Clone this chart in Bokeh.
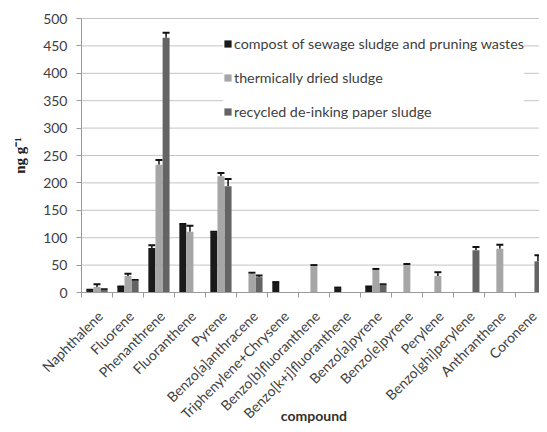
import math
from bokeh.plotting import figure
from bokeh.models import (Range1d, FixedTicker, Legend, LegendItem, Whisker,
                          ColumnDataSource, TeeHead)
from bokeh.core.properties import value
from bokeh.embed import file_html
from bokeh.resources import INLINE

compounds = ["Naphthalene", "Fluorene", "Phenanthrene", "Fluoranthene", "Pyrene",
             "Benzo[a]anthracene", "Triphenylene+Chrysene", "Benzo[b]fluoranthene",
             "Benzo[k+j]fluoranthene", "Benzo[a]pyrene", "Benzo[e]pyrene", "Perylene",
             "Benzo[ghi]perylene", "Anthranthene", "Coronene"]
series_names = ["compost of sewage sludge and pruning wastes",
                "thermically dried sludge",
                "recycled de-inking paper sludge"]
compost = [4, 10, 81, 124, 110, None, 18, None, 8, 10, None, None, None, None, None]
compost_err = [1, 1, 5, 1, 1, None, 1, None, 1, 1, None, None, None, None, None]
thermal = [10, 30, 233, 111, 212, 34, None, 48, None, 41, 50, 30, None, 80, None]
thermal_err = [5, 4, 9, 11, 6, 2, None, 2, None, 2, 2, 7, None, 7, None]
recycled = [5, 22, 465, None, 194, 28, None, None, None, 14, None, None, 77, None, 57]
recycled_err = [1, 1, 9, None, 13, 3, None, None, None, 1, None, None, 6, None, 11]
y_ticks = list(range(0, 501, 50))

colors = ["#1a1a1a", "#a6a6a6", "#646464"]
offsets = [-0.23, 0.0, 0.23]
bar_w = 0.225

# canvas layout (pixels)
W, H = 539, 424
LEFT, TOP, BOTTOM = 81, 18, 292
x_end = 14.78
y_max = 500
sx = (W - LEFT) / x_end            # px per category
sy = (BOTTOM - TOP) / y_max         # px per unit

p = figure(width=W, height=H, output_backend="svg", toolbar_location=None,
           x_range=Range1d(-LEFT / sx, x_end),
           y_range=Range1d(-(H - BOTTOM) / sy, y_max + TOP / sy),
           min_border=0)
p.outline_line_color = None
p.grid.visible = False

# horizontal gridlines over the plot area only
p.segment(x0=[0] * len(y_ticks), x1=[x_end] * len(y_ticks), y0=y_ticks, y1=y_ticks,
          line_color="#c4c4c4", line_width=1, level="underlay")

items = []
for name, vals, errs, col, off in zip(series_names, [compost, thermal, recycled],
                                      [compost_err, thermal_err, recycled_err],
                                      colors, offsets):
    xs, tops, ups = [], [], []
    for i, (v, e) in enumerate(zip(vals, errs)):
        if v is None:
            continue
        xs.append(i + 0.5 + off)
        tops.append(v)
        ups.append(v + (e or 0))
    src = ColumnDataSource(dict(x=xs, top=tops, up=ups))
    r = p.vbar(x="x", top="top", width=bar_w, bottom=0, source=src,
               fill_color=col, line_color=None)
    w = Whisker(base="x", lower="top", upper="up", source=src, dimension="height",
                line_color="#111111", line_width=1.5,
                upper_head=TeeHead(size=7, line_color="#111111", line_width=2),
                lower_head=None)
    p.add_layout(w)
    items.append(LegendItem(label=name, renderers=[r]))

legend = Legend(items=items, location=(223, 304), background_fill_color="white",
                background_fill_alpha=1, border_line_color=None,
                label_text_font="Lato", label_text_font_size="14.3px",
                label_text_color="#404040", glyph_width=9, glyph_height=9,
                label_standoff=2, spacing=17, padding=10, label_height=16)
p.add_layout(legend)

# x axis at y = 0 with tick marks at category boundaries
p.xaxis.fixed_location = 0
p.xaxis.bounds = (0, x_end)
p.xaxis.ticker = FixedTicker(ticks=[], minor_ticks=list(range(len(compounds) + 1)))
p.xaxis.major_tick_out = 0
p.xaxis.major_tick_in = 0
p.xaxis.minor_tick_out = 5
p.xaxis.minor_tick_in = 0
p.xaxis.minor_tick_line_color = "#9a9a9a"
p.xaxis.axis_line_color = "#9a9a9a"

# y axis at x = 0
p.yaxis.fixed_location = 0
p.yaxis.bounds = (0, y_max)
p.yaxis.ticker = FixedTicker(ticks=y_ticks)
p.yaxis.minor_tick_line_color = None
p.yaxis.major_tick_out = 5
p.yaxis.major_tick_in = 0
p.yaxis.major_tick_line_color = "#9a9a9a"
p.yaxis.axis_line_color = "#9a9a9a"
p.yaxis.major_label_text_font = "Lato"
p.yaxis.major_label_text_font_size = "14px"
p.yaxis.major_label_text_color = "#404040"
p.yaxis.major_label_standoff = 9
p.yaxis.axis_label = "ng g\u207b\u00b9"
p.yaxis.axis_label_text_font = "Liberation Serif"
p.yaxis.axis_label_text_font_style = "bold"
p.yaxis.axis_label_text_font_size = "15px"
p.yaxis.axis_label_text_color = "#202020"
p.yaxis.axis_label_standoff = 12

# rotated category labels and axis title below the plot area
lab_src = ColumnDataSource(dict(x=[i + 0.6 for i in range(len(compounds))],
                                y=[-21 / sy] * len(compounds), text=compounds))
p.text(x="x", y="y", text="text", source=lab_src, angle=math.pi / 4,
       text_align="right", text_baseline="middle", text_font=value("Lato"),
       text_font_size="14px", text_color="#404040")
p.text(x=[len(compounds) / 2], y=[-123 / sy], text=["compound"], text_align="center",
       text_baseline="middle", text_font=value("Lato"), text_font_style="bold",
       text_font_size="14px", text_color="#303030")

open("out.html", "w").write(file_html(p, INLINE))
